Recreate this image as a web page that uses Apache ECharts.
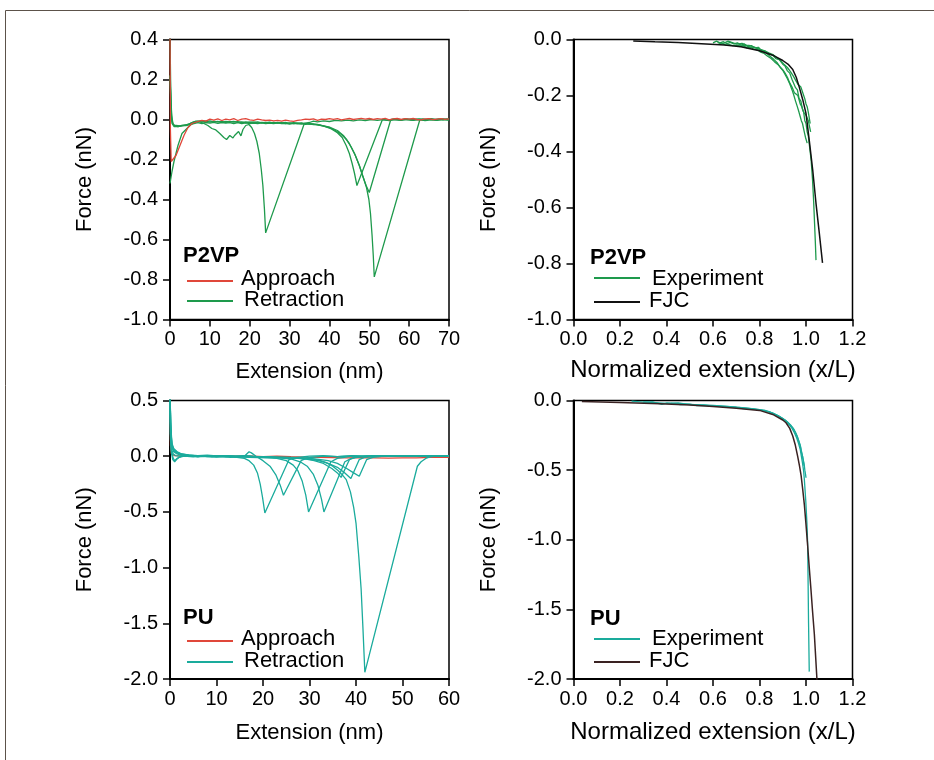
<!DOCTYPE html>
<html>
<head>
<meta charset="utf-8">
<script src="https://cdn.jsdelivr.net/npm/echarts@6/dist/echarts.min.js"></script>
<style>
html,body{margin:0;padding:0;background:#fff;}
#chart{width:934px;height:760px;}
</style>
</head>
<body>
<div id="chart"></div>
<script>
// ---------- Panel A: P2VP force vs extension (nm) ----------
const p2vpApproach = [[0,0.45],[0.1,-0.05],[0.3,-0.21],[0.6,-0.22],[1.5,-0.18],[2.5,-0.13],[3.5,-0.08],[4.5,-0.04],[5.5,-0.02],[7,-0.01],[8,-0.004],[9,-0.008],[10,0.002],[11,-0.003],[12,0.003],[13,-0.005],[14,0.002],[15,-0.002],[16,0.004],[17,-0.005],[18,0.002],[19,0.004],[20,-0.002],[21,-0.004],[22,0.002],[23,-0.002],[24,-0.005],[25,-0.003],[26,-0.007],[27,-0.004],[28,-0.008],[29,-0.003],[30,-0.007],[31,-0.009],[32,-0.004],[33,-0.002],[34,0.002],[35,0.0],[36,0.003],[37,-0.004],[38,0.002],[39,0.0],[40,0.004],[41,0.001],[42,0.004],[43,-0.002],[44,0.002],[45,0.005],[46,0.0],[47,0.003],[48,0.006],[49,0.002],[50,0.005],[51,0.0],[52,0.004],[53,0.002],[54,0.006],[55,-0.002],[56,0.003],[57,0.005],[58,0.0],[59,0.004],[60,0.002],[61,0.005],[62,0.0],[63,-0.002],[64,0.003],[65,0.004],[66,-0.001],[67,0.002],[68,0.004],[69,0.001],[70,0.003]];
const p2vpRetract1 = [[0,0.42],[0.15,0.2],[0.4,0.02],[0.8,-0.025],[1.5,-0.03],[2.5,-0.032],[3.5,-0.028],[4.5,-0.025],[5.5,-0.015],[6.5,-0.008],[7.5,-0.012],[8.5,-0.02],[9.5,-0.03],[10.5,-0.045],[11,-0.04],[11.5,-0.052],[12,-0.058],[12.5,-0.07],[13,-0.075],[13.5,-0.09],[14.2,-0.1],[14.6,-0.09],[15,-0.08],[15.4,-0.085],[15.8,-0.092],[16.2,-0.08],[16.5,-0.07],[17.2,-0.06],[17.8,-0.082],[18.3,-0.05],[18.7,-0.04],[19,-0.03],[19.4,-0.028],[19.8,-0.025],[20.2,-0.032],[20.5,-0.04],[21.2,-0.07],[21.8,-0.11],[22.4,-0.17],[22.9,-0.25],[23.3,-0.33],[23.7,-0.45],[24.0,-0.567],[33.7,-0.02],[35,-0.015],[36,-0.008],[37,-0.012],[38.5,-0.007],[40,-0.01],[41.5,-0.004],[43,-0.007],[44.5,-0.003],[46,-0.007],[47.5,-0.002],[49,-0.005],[50.5,0.0],[52,-0.004],[53.5,-0.001],[55,-0.005],[56.5,0.0],[58,-0.004],[59.5,-0.001],[61,-0.004],[62.5,0.0],[64,-0.005],[65.5,-0.002],[67,-0.004],[68.5,0.0],[70,-0.003]];
const p2vpRetract2 = [[0,-0.32],[0.5,-0.26],[1,-0.21],[1.5,-0.17],[2,-0.13],[2.5,-0.1],[3,-0.07],[3.5,-0.06],[4,-0.05],[5,-0.03],[6,-0.015],[7,-0.01],[8,-0.006],[9,-0.01],[10,-0.007],[11,-0.012],[12,-0.009],[13,-0.014],[14,-0.01],[15,-0.012],[16,-0.009],[17,-0.014],[18,-0.012],[19,-0.017],[20,-0.013],[21,-0.015],[22,-0.012],[23,-0.017],[24,-0.014],[25,-0.019],[26,-0.015],[27,-0.018],[28,-0.016],[29,-0.021],[30,-0.017],[31,-0.02],[32,-0.018],[33,-0.022],[34,-0.019],[35,-0.023],[36,-0.022],[37,-0.026],[38,-0.03],[39,-0.036],[40.5,-0.047],[42,-0.066],[43.2,-0.09],[44.2,-0.13],[45,-0.17],[45.7,-0.22],[46.3,-0.27],[46.9,-0.33],[53.3,0.0],[54.5,-0.004],[56,0.001],[57.5,-0.003],[59,0.002],[60.5,-0.003],[62,0.001],[63.5,-0.003],[65,0.002],[66.5,-0.002],[68,0.001],[70,-0.002]];
const p2vpRetract3 = [[0,0.22],[0.2,0.1],[0.5,-0.01],[1,-0.03],[2,-0.035],[3,-0.03],[4,-0.03],[5,-0.025],[6,-0.02],[7,-0.016],[8,-0.02],[9,-0.015],[10,-0.018],[11,-0.014],[12,-0.019],[13,-0.015],[14,-0.018],[15,-0.016],[16,-0.021],[17,-0.016],[18,-0.02],[19,-0.017],[20,-0.021],[21,-0.018],[22,-0.02],[23,-0.017],[24,-0.021],[25,-0.018],[26,-0.02],[27,-0.017],[28,-0.021],[29,-0.019],[30,-0.023],[31,-0.019],[32,-0.022],[33,-0.02],[34,-0.024],[35,-0.022],[36,-0.026],[37,-0.027],[38,-0.031],[40,-0.04],[41.5,-0.055],[43,-0.075],[44.3,-0.1],[45.5,-0.14],[46.5,-0.18],[47.5,-0.23],[48.3,-0.28],[49.2,-0.33],[50,-0.365],[55.4,0.0],[56.5,0.003],[58,-0.001],[59.5,0.003],[61,0.0],[62.5,0.003],[64,-0.002],[65.5,0.002],[67,-0.001],[68.5,0.003],[70,0.001]];
const p2vpRetract4 = [[0,0.22],[0.2,0.08],[0.5,-0.02],[1,-0.035],[2,-0.036],[3,-0.032],[4,-0.028],[5,-0.02],[6,-0.012],[7,-0.008],[8,-0.012],[9,-0.008],[10,-0.013],[11,-0.009],[12,-0.012],[13,-0.01],[14,-0.014],[15,-0.011],[16,-0.013],[17,-0.011],[18,-0.016],[19,-0.012],[20,-0.015],[21,-0.013],[22,-0.017],[23,-0.014],[24,-0.016],[25,-0.013],[26,-0.018],[27,-0.015],[28,-0.017],[29,-0.015],[30,-0.019],[31,-0.016],[32,-0.018],[33,-0.017],[34,-0.021],[35,-0.02],[36,-0.023],[37,-0.025],[38,-0.029],[40,-0.038],[42,-0.055],[43.5,-0.08],[45,-0.12],[46.3,-0.17],[47.5,-0.23],[48.5,-0.29],[49.3,-0.34],[49.9,-0.4],[50.3,-0.47],[50.7,-0.58],[51,-0.68],[51.25,-0.787],[62.7,0.0],[63.5,0.003],[64.5,-0.001],[65.5,0.004],[66.5,0.0],[67.5,0.003],[68.5,-0.001],[69.5,0.003],[70,0.001]];

// ---------- Panel B: P2VP force vs normalized extension ----------
const p2vpFjc = [[0.257,-0.005],[0.35,-0.008],[0.45,-0.011],[0.55,-0.015],[0.65,-0.02],[0.72,-0.026],[0.8,-0.04],[0.857,-0.056],[0.9,-0.075],[0.925,-0.09],[0.943,-0.107],[0.958,-0.135],[0.971,-0.17],[0.986,-0.215],[1.0,-0.264],[1.014,-0.36],[1.029,-0.467],[1.043,-0.585],[1.057,-0.69],[1.071,-0.798]];
const p2vpExp1 = [[0.6,-0.012],[0.615,-0.006],[0.63,-0.012],[0.645,-0.008],[0.66,-0.015],[0.675,-0.01],[0.69,-0.016],[0.705,-0.012],[0.72,-0.02],[0.735,-0.016],[0.75,-0.024],[0.765,-0.022],[0.78,-0.03],[0.795,-0.028],[0.81,-0.04],[0.825,-0.042],[0.84,-0.052],[0.855,-0.055],[0.87,-0.068],[0.885,-0.072],[0.9,-0.088],[0.91,-0.095],[0.92,-0.112],[0.93,-0.12],[0.94,-0.143],[0.948,-0.15],[0.955,-0.172],[0.963,-0.18],[0.97,-0.21],[0.978,-0.22],[0.985,-0.25],[0.99,-0.26],[0.995,-0.29],[1.0,-0.3],[1.005,-0.33],[1.01,-0.345],[1.015,-0.38],[1.022,-0.43],[1.028,-0.5],[1.033,-0.58],[1.037,-0.66],[1.04,-0.72],[1.043,-0.788]];
const p2vpExp2 = [[0.62,-0.01],[0.635,-0.016],[0.65,-0.012],[0.665,-0.006],[0.68,-0.01],[0.695,-0.015],[0.71,-0.016],[0.725,-0.014],[0.74,-0.02],[0.755,-0.021],[0.77,-0.025],[0.785,-0.03],[0.8,-0.035],[0.815,-0.04],[0.83,-0.048],[0.845,-0.06],[0.86,-0.07],[0.875,-0.082],[0.89,-0.1],[0.9,-0.108],[0.91,-0.12],[0.92,-0.135],[0.93,-0.155],[0.94,-0.17],[0.95,-0.19],[0.958,-0.185],[0.965,-0.2],[0.97,-0.215],[0.975,-0.23],[0.982,-0.24],[0.99,-0.26],[0.995,-0.258],[1.0,-0.27],[1.005,-0.28],[1.01,-0.29],[1.015,-0.31],[1.02,-0.33]];
const p2vpExp3 = [[0.64,-0.015],[0.655,-0.02],[0.67,-0.018],[0.685,-0.022],[0.7,-0.02],[0.715,-0.025],[0.73,-0.022],[0.745,-0.03],[0.76,-0.028],[0.775,-0.034],[0.79,-0.036],[0.805,-0.045],[0.82,-0.05],[0.835,-0.06],[0.85,-0.068],[0.865,-0.08],[0.88,-0.09],[0.89,-0.1],[0.9,-0.11],[0.91,-0.125],[0.92,-0.14],[0.93,-0.158],[0.94,-0.18],[0.948,-0.2],[0.955,-0.22],[0.962,-0.238],[0.97,-0.26],[0.975,-0.275],[0.98,-0.29],[0.985,-0.3],[0.99,-0.32],[0.994,-0.335],[0.998,-0.35],[1.005,-0.37]];
const p2vpExp4 = [[0.7,-0.02],[0.72,-0.024],[0.74,-0.022],[0.76,-0.027],[0.78,-0.028],[0.8,-0.035],[0.82,-0.04],[0.84,-0.048],[0.86,-0.055],[0.875,-0.066],[0.89,-0.075],[0.905,-0.088],[0.92,-0.1],[0.933,-0.115],[0.945,-0.13],[0.955,-0.145],[0.965,-0.16],[0.972,-0.158],[0.978,-0.17],[0.984,-0.185],[0.99,-0.2],[0.995,-0.212],[1.0,-0.23],[1.005,-0.24],[1.01,-0.26],[1.014,-0.28],[1.018,-0.3]];

// ---------- Panel C: PU force vs extension (nm) ----------
const puApproach = [[0,0.55],[0.1,0.1],[0.3,0.02],[1,0.005],[3,0.0],[5,0.005],[8,0.0],[11,0.004],[14,0.0],[17,0.003],[20,-0.003],[23,0.0],[26,-0.005],[29,-0.008],[32,-0.01],[35,-0.012],[38,-0.015],[41,-0.013],[44,-0.015],[47,-0.018],[50,-0.015],[53,-0.015],[56,-0.01],[59,-0.01],[60,-0.01]];
const puRetract1 = [[0,0.6],[0.15,0.25],[0.4,0.1],[0.8,0.05],[1.5,0.03],[2.5,0.015],[4,0.005],[6,0.0],[8,0.006],[10,-0.003],[12,0.004],[14,-0.008],[16,-0.02],[17,-0.04],[18,-0.08],[18.8,-0.15],[19.4,-0.25],[19.9,-0.37],[20.4,-0.51],[25.6,-0.03],[27,-0.012],[28.5,-0.006],[30,0.0],[33,0.004],[36,-0.003],[39,0.003],[42,0.0],[45,0.005],[48,0.002],[51,0.006],[54,0.003],[57,0.005],[60,0.004]];
const puRetract2 = [[0,0.55],[0.1,0.2],[0.3,0.05],[0.7,-0.02],[1,-0.04],[1.5,-0.02],[2.5,0.0],[4,0.01],[6,-0.005],[8,0.003],[10,-0.006],[12,0.0],[14,-0.005],[16,0.0],[17,0.04],[17.5,0.03],[18.5,0.0],[20,-0.04],[21.5,-0.09],[22.8,-0.17],[23.7,-0.26],[24.4,-0.35],[28.2,-0.04],[29.5,-0.015],[31,-0.008],[33,0.0],[36,-0.004],[39,0.004],[42,0.0],[45,0.004],[48,0.0],[51,0.005],[54,0.0],[57,0.006],[60,0.003]];
const puRetract3 = [[0,0.6],[0.15,0.22],[0.4,0.08],[0.8,0.04],[1.5,0.02],[3,0.0],[5,-0.006],[7,0.0],[9,-0.008],[11,-0.004],[13,-0.01],[15,-0.006],[17,-0.01],[19,-0.012],[21,-0.015],[23,-0.02],[25,-0.04],[26.5,-0.08],[27.5,-0.13],[28.4,-0.22],[29.2,-0.35],[29.8,-0.5],[34.6,-0.05],[36,-0.02],[37.5,-0.01],[39,0.0],[42,-0.004],[45,0.003],[48,-0.002],[51,0.004],[54,0.0],[57,0.004],[60,0.002]];
const puRetract4 = [[0,0.6],[0.15,0.3],[0.4,0.12],[0.8,0.07],[1.5,0.04],[2.5,0.02],[4,0.01],[6,0.002],[8,-0.004],[10,0.003],[12,-0.005],[14,0.0],[16,-0.006],[18,-0.004],[20,-0.01],[22,-0.012],[24,-0.016],[26,-0.025],[28,-0.05],[29.5,-0.09],[30.8,-0.16],[31.8,-0.26],[32.6,-0.39],[33.1,-0.5],[37.6,-0.05],[39,-0.02],[40.5,-0.008],[42,0.0],[45,0.004],[48,0.0],[51,0.005],[54,0.002],[57,0.005],[60,0.003]];
const puRetract5 = [[0,0.5],[0.1,0.15],[0.3,0.03],[0.6,-0.03],[1,-0.05],[1.4,-0.03],[2,-0.01],[3,0.0],[5,0.006],[7,-0.004],[9,0.004],[11,-0.004],[13,0.0],[15,-0.003],[17,0.0],[19,-0.006],[21,-0.004],[23,-0.01],[25,-0.012],[27,-0.016],[29,-0.025],[31,-0.04],[33,-0.065],[34.8,-0.11],[36,-0.15],[36.8,-0.19],[38.6,-0.03],[39.8,-0.01],[42,0.0],[45,0.004],[48,0.0],[51,0.005],[54,0.0],[57,0.005],[60,0.002]];
const puRetract6 = [[0,0.6],[0.15,0.25],[0.4,0.1],[0.8,0.05],[1.5,0.03],[2.5,0.015],[4,0.008],[6,0.0],[8,0.005],[10,-0.004],[12,0.002],[14,-0.006],[16,-0.002],[18,-0.008],[20,-0.006],[22,-0.01],[24,-0.014],[26,-0.016],[28,-0.02],[30,-0.028],[32,-0.04],[34,-0.065],[36,-0.1],[37.6,-0.15],[38.9,-0.2],[40.7,-0.03],[41.8,-0.01],[44,0.0],[47,0.004],[50,0.0],[53,0.004],[56,0.0],[60,0.004]];
const puRetract7 = [[0,0.55],[0.12,0.2],[0.35,0.06],[0.7,0.02],[1.2,0.005],[2,0.0],[4,0.006],[6,-0.003],[8,0.004],[10,0.0],[12,0.005],[14,-0.002],[16,0.0],[18,-0.005],[20,-0.004],[22,-0.008],[24,-0.01],[26,-0.012],[28,-0.015],[30,-0.02],[32,-0.028],[34,-0.04],[36,-0.065],[38,-0.11],[39.5,-0.15],[40.7,-0.18],[42.3,-0.03],[43.6,-0.01],[46,0.0],[49,0.004],[52,0.0],[55,0.005],[58,0.002],[60,0.004]];
const puRetract8 = [[0,0.6],[0.15,0.28],[0.4,0.1],[0.8,0.06],[1.5,0.04],[2.5,0.02],[4,0.012],[6,0.005],[8,0.01],[10,0.002],[12,0.006],[14,0.0],[16,0.004],[18,-0.002],[20,-0.004],[22,-0.006],[24,-0.008],[26,-0.01],[28,-0.014],[30,-0.02],[32,-0.035],[33.5,-0.055],[35,-0.09],[36.2,-0.13],[37.1,-0.17],[37.9,-0.21],[38.8,-0.32],[39.5,-0.46],[40,-0.6],[40.6,-0.9],[41.1,-1.19],[41.5,-1.55],[41.9,-1.94],[53.2,-0.09],[54,-0.05],[55,-0.02],[56,-0.005],[57,0.0],[58,0.006],[59,0.002],[60,0.006]];

// ---------- Panel D: PU force vs normalized extension ----------
const puFjc = [[0.036,-0.007],[0.2,-0.015],[0.371,-0.024],[0.5,-0.033],[0.6,-0.043],[0.7,-0.055],[0.8,-0.071],[0.857,-0.1],[0.9,-0.14],[0.914,-0.16],[0.93,-0.2],[0.943,-0.255],[0.954,-0.32],[0.964,-0.4],[0.972,-0.47],[0.979,-0.54],[0.986,-0.64],[0.993,-0.75],[1.0,-0.89],[1.007,-1.04],[1.014,-1.2],[1.021,-1.35],[1.028,-1.51],[1.036,-1.68],[1.047,-2.0],[1.05,-2.1]];
const puExp1 = [[0.25,-0.005],[0.3,-0.012],[0.34,-0.01],[0.38,-0.028],[0.4,-0.018],[0.42,-0.02],[0.46,-0.03],[0.5,-0.026],[0.53,-0.036],[0.56,-0.034],[0.6,-0.04],[0.63,-0.042],[0.66,-0.048],[0.7,-0.05],[0.73,-0.058],[0.76,-0.06],[0.8,-0.066],[0.82,-0.074],[0.84,-0.08],[0.86,-0.094],[0.88,-0.108],[0.9,-0.13],[0.91,-0.142],[0.92,-0.16],[0.93,-0.178],[0.94,-0.2],[0.95,-0.232],[0.96,-0.27],[0.968,-0.31],[0.975,-0.35],[0.98,-0.4],[0.985,-0.45],[0.99,-0.51],[0.993,-0.57],[0.999,-0.72],[1.004,-0.88],[1.007,-1.02],[1.009,-1.3],[1.011,-1.6],[1.014,-1.947]];
const puExp2 = [[0.3,-0.01],[0.35,-0.015],[0.4,-0.02],[0.45,-0.018],[0.5,-0.03],[0.55,-0.032],[0.6,-0.036],[0.65,-0.04],[0.7,-0.048],[0.75,-0.055],[0.8,-0.065],[0.82,-0.07],[0.84,-0.08],[0.86,-0.092],[0.88,-0.11],[0.895,-0.124],[0.91,-0.14],[0.922,-0.158],[0.935,-0.18],[0.945,-0.2],[0.955,-0.23],[0.963,-0.26],[0.97,-0.3],[0.976,-0.33],[0.98,-0.37],[0.985,-0.4],[0.99,-0.44],[0.993,-0.47],[0.995,-0.5],[0.998,-0.53],[1.0,-0.555]];
const puExp3 = [[0.42,-0.02],[0.47,-0.025],[0.52,-0.03],[0.57,-0.035],[0.62,-0.04],[0.67,-0.045],[0.72,-0.052],[0.77,-0.06],[0.82,-0.075],[0.84,-0.082],[0.86,-0.095],[0.875,-0.106],[0.89,-0.12],[0.905,-0.136],[0.92,-0.155],[0.933,-0.176],[0.945,-0.2],[0.953,-0.224],[0.96,-0.25],[0.968,-0.285],[0.975,-0.32],[0.98,-0.36],[0.985,-0.4],[0.989,-0.44],[0.992,-0.47]];

// axis ranges
const axA = {xmin:0, xmax:70, xint:10, ymin:-1.0, ymax:0.4, yint:0.2};
const axB = {xmin:0, xmax:1.2, xint:0.2, ymin:-1.0, ymax:0.0, yint:0.2};
const axC = {xmin:0, xmax:60, xint:10, ymin:-2.0, ymax:0.5, yint:0.5};
const axD = {xmin:0, xmax:1.2, xint:0.2, ymin:-2.0, ymax:0.0, yint:0.5};

const RED = '#e0473a', GREEN = '#1e9a4c', TEAL = '#1aab9c', BLACK = '#111111', BROWN = '#3a2222';
const FONT = 'Liberation Sans, Arial, sans-serif';

const chart = echarts.init(document.getElementById('chart'), null, {renderer: 'canvas'});

const grids = [
  {left:170, top:39.5, width:279, height:280},
  {left:573.5, top:39.5, width:279, height:280},
  {left:170, top:400.5, width:279, height:278.5},
  {left:573.5, top:400.5, width:279, height:278.5}
].map(g => Object.assign(g, {show:true, borderColor:'#000', borderWidth:1.5, backgroundColor:'transparent'}));

function xAxis(i, ax, name, digits, gap, nameSize) {
  return {
    type:'value', gridIndex:i, min:ax.xmin, max:ax.xmax, interval:ax.xint,
    name:name, nameLocation:'middle', nameGap:gap,
    nameTextStyle:{fontFamily:FONT, fontSize:nameSize, color:'#000'},
    axisLine:{show:true, onZero:false, lineStyle:{color:'#000', width:2}},
    axisTick:{show:true, inside:false, length:7, lineStyle:{color:'#000', width:1.5}},
    axisLabel:{fontFamily:FONT, fontSize:20, color:'#000', margin:10,
      formatter:v => digits ? v.toFixed(digits) : String(Math.round(v))},
    splitLine:{show:false}
  };
}
function yAxis(i, ax, gap) {
  return {
    type:'value', gridIndex:i, min:ax.ymin, max:ax.ymax, interval:ax.yint,
    name:'Force (nN)', nameLocation:'middle', nameGap:gap,
    nameTextStyle:{fontFamily:FONT, fontSize:22, color:'#000'},
    axisLine:{show:true, onZero:false, lineStyle:{color:'#000', width:2}},
    axisTick:{show:true, inside:false, length:7, lineStyle:{color:'#000', width:1.5}},
    axisLabel:{fontFamily:FONT, fontSize:20, color:'#000', margin:12,
      formatter:v => v.toFixed(1)},
    splitLine:{show:false}
  };
}

function line(i, data, color, width) {
  return {type:'line', xAxisIndex:i, yAxisIndex:i, data:data, showSymbol:false, symbol:'none',
    clip:true, animation:false, lineStyle:{color:color, width:width||1.3}, z:2};
}

const series = [
  line(0, p2vpRetract1, GREEN), line(0, p2vpRetract2, GREEN), line(0, p2vpRetract3, GREEN), line(0, p2vpRetract4, GREEN),
  line(0, p2vpApproach, RED),
  line(1, p2vpExp1, GREEN), line(1, p2vpExp2, GREEN), line(1, p2vpExp3, GREEN), line(1, p2vpExp4, GREEN),
  line(1, p2vpFjc, BLACK, 1.5),
  line(2, puApproach, RED),
  line(2, puRetract1, TEAL), line(2, puRetract2, TEAL), line(2, puRetract3, TEAL), line(2, puRetract4, TEAL),
  line(2, puRetract5, TEAL), line(2, puRetract6, TEAL), line(2, puRetract7, TEAL), line(2, puRetract8, TEAL),
  line(3, puExp1, TEAL), line(3, puExp2, TEAL), line(3, puExp3, TEAL),
  line(3, puFjc, BROWN, 1.5)
];

function txt(x, y, s, bold) {
  return {type:'text', left:x, top:y - 12.5, z:10,
    style:{text:s, font:(bold ? 'bold ' : '') + '22px ' + FONT, fill:'#000'}};
}
function seg(x1, x2, y, color) {
  return {type:'line', z:10, shape:{x1:x1, y1:y, x2:x2, y2:y}, style:{stroke:color, lineWidth:2}};
}

const graphic = [
  {type:'polyline', z:0, shape:{points:[[5.5,760],[5.5,10.5],[934,10.5]]}, style:{stroke:'#5c524a', lineWidth:1, fill:null}},
  // Panel A legend
  txt(183, 257, 'P2VP', true), seg(187, 233, 281, RED), txt(241, 280, 'Approach'), seg(187, 233, 301, GREEN), txt(244, 301, 'Retraction'),
  // Panel B legend
  txt(590, 259, 'P2VP', true), seg(594, 640, 278, GREEN), txt(652, 280, 'Experiment'), seg(594, 640, 302, BLACK), txt(649, 302, 'FJC'),
  // Panel C legend
  txt(183, 619, 'PU', true), seg(187, 233, 641, RED), txt(241, 640, 'Approach'), seg(187, 233, 662, TEAL), txt(244, 662, 'Retraction'),
  // Panel D legend
  txt(590, 620, 'PU', true), seg(594, 640, 639, TEAL), txt(652, 640, 'Experiment'), seg(594, 640, 662, BROWN), txt(649, 662, 'FJC')
];

chart.setOption({
  animation:false,
  backgroundColor:'#fff',
  grid:grids,
  xAxis:[
    xAxis(0, axA, 'Extension (nm)', 0, 41, 22),
    xAxis(1, axB, 'Normalized extension (x/L)', 1, 39, 24),
    xAxis(2, axC, 'Extension (nm)', 0, 43, 22),
    xAxis(3, axD, 'Normalized extension (x/L)', 1, 41, 24)
  ],
  yAxis:[yAxis(0, axA, 74), yAxis(1, axB, 74), yAxis(2, axC, 74), yAxis(3, axD, 74)],
  series:series,
  graphic:graphic
});
</script>
</body>
</html>
